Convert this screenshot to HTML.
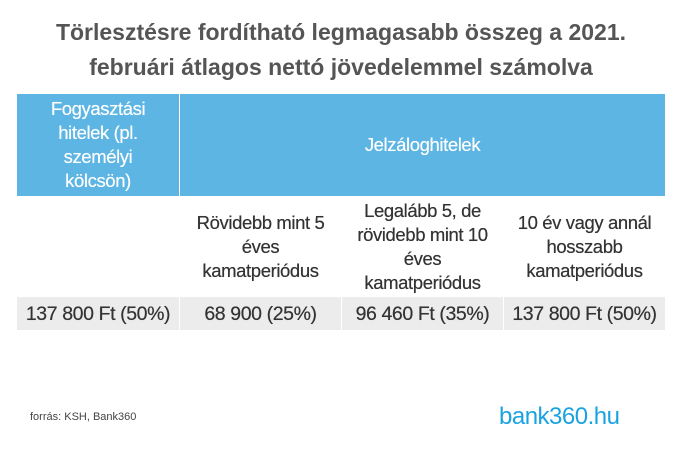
<!DOCTYPE html>
<html><head><meta charset="utf-8"><style>
body{margin:0;width:682px;height:450px;background:#fff;font-family:"Liberation Sans",sans-serif;color:#333;position:relative;overflow:hidden}
.t{position:absolute;left:0;width:682px;text-align:center;font-weight:bold;font-size:23px;color:#555}
.c{position:absolute;display:flex;align-items:center;justify-content:center;text-align:center;font-size:18.5px;line-height:24px;letter-spacing:-0.4px;text-shadow:0 0 0.4px currentColor}
.h{background:#5db5e4;color:#fff}
.g{background:#ececec;font-size:19.5px}
</style></head><body>
<div class="t" style="top:19px">Törlesztésre fordítható legmagasabb összeg a 2021.</div>
<div class="t" style="top:54px">februári átlagos nettó jövedelemmel számolva</div>
<div class="c h" style="left:17px;top:94px;width:162px;height:102px">Fogyasztási<br>hitelek (pl.<br>személyi<br>kölcsön)</div>
<div class="c h" style="left:180px;top:94px;width:485px;height:102px">Jelzáloghitelek</div>
<div class="c" style="left:180px;top:196px;width:161px;height:101px">Rövidebb mint 5<br>éves<br>kamatperiódus</div>
<div class="c" style="left:342px;top:196px;width:161px;height:101px">Legalább 5, de<br>rövidebb mint 10<br>éves<br>kamatperiódus</div>
<div class="c" style="left:504px;top:196px;width:161px;height:101px">10 év vagy annál<br>hosszabb<br>kamatperiódus</div>
<div class="c g" style="left:17px;top:297px;width:162px;height:33px">137 800 Ft (50%)</div>
<div class="c g" style="left:180px;top:297px;width:161px;height:33px">68 900 (25%)</div>
<div class="c g" style="left:342px;top:297px;width:161px;height:33px">96 460 Ft (35%)</div>
<div class="c g" style="left:504px;top:297px;width:161px;height:33px">137 800 Ft (50%)</div>
<div style="position:absolute;left:30px;top:411px;font-size:11px;color:#444">forrás: KSH, Bank360</div>
<div style="position:absolute;left:499px;top:403px;font-size:24px;color:#1aa3e0;letter-spacing:-0.5px">bank360.hu</div>
</body></html>
